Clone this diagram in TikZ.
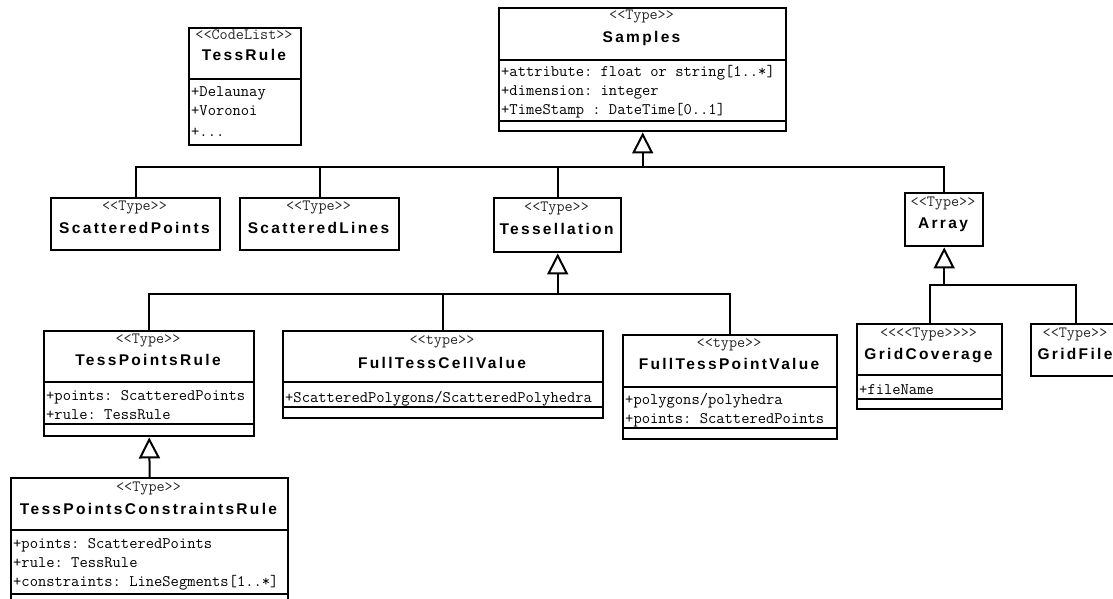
\documentclass[tikz,border=0pt]{standalone}
\usepackage{fontspec}
\usetikzlibrary{arrows.meta}
\newfontfamily\namef{Liberation Sans}[LetterSpace=15]
\frenchspacing
\begin{document}
\begin{tikzpicture}[x=1pt,y=-1pt,
 cls/.style={draw, line width=2.4pt, fill=white, inner sep=0pt, anchor=north west},
 sepline/.style={line width=2pt},
 st/.style={font=\ttfamily\fontsize{15.7}{15.7}\selectfont, anchor=base, inner sep=0pt, text=black!85},
 nm/.style={font=\namef\bfseries\fontsize{15.5}{15.5}\selectfont, anchor=base, inner sep=0pt},
 attr/.style={font=\ttfamily\fontsize{16.1}{16.1}\selectfont, anchor=base west, inner sep=0pt},
 conn/.style={line width=2pt},
 gen/.style={line width=2pt, -{Triangle[open, length=21pt, width=21pt]}}]
\clip (0,0) rectangle (1113,599);
\fill[white] (0,0) rectangle (1113,599);

% TessRule
\node[cls, minimum width=112pt, minimum height=117pt] (TR) at (188,27) {};
\draw[sepline] (188,79) -- (300,79);
\node[st] (TRst) at (244,40) {<<CodeList>>};
\node[nm] (TRnm) at (244,61) {TessRule};
\node[attr] (TRa1) at (191,97) {+Delaunay};
\node[attr] (TRa2) at (191,116) {+Voronoi};
\node[attr] (TRa3) at (191,136) {+...};

% Samples
\node[cls, minimum width=287pt, minimum height=123pt] (SA) at (498,7) {};
\draw[sepline] (498,60) -- (785,60);
\draw[sepline] (498,121) -- (785,121);
\node[st] (SAst) at (641.5,20) {<<Type>>};
\node[nm] (SAnm) at (641.5,43) {Samples};
\node[attr] (SAa1) at (501,77) {+attribute: float or string[1..*]};
\node[attr] (SAa2) at (501,96) {+dimension: integer};
\node[attr] (SAa3) at (501,114) {+TimeStamp : DateTime[0..1]};

% second row
\node[cls, minimum width=169pt, minimum height=52pt] (SP) at (50,197) {};
\node[st] (SPst) at (134.5,210) {<<Type>>};
\node[nm] (SPnm) at (134.5,233) {ScatteredPoints};

\node[cls, minimum width=159pt, minimum height=52pt] (SL) at (239,197) {};
\node[st] (SLst) at (318.5,210) {<<Type>>};
\node[nm] (SLnm) at (318.5,233) {ScatteredLines};

\node[cls, minimum width=127pt, minimum height=54pt] (TE) at (493,197) {};
\node[st] (TEst) at (556.5,211) {<<Type>>};
\node[nm] (TEnm) at (556.5,234) {Tessellation};

\node[cls, minimum width=78pt, minimum height=53pt] (AR) at (904,192) {};
\node[st] (ARst) at (943,206) {<<Type>>};
\node[nm] (ARnm) at (943,228) {Array};

% third row
\node[cls, minimum width=210pt, minimum height=105pt] (TPR) at (43,330) {};
\draw[sepline] (43,382) -- (253,382);
\draw[sepline] (43,424) -- (253,424);
\node[st] (TPRst) at (148,343) {<<Type>>};
\node[nm] (TPRnm) at (148,365) {TessPointsRule};
\node[attr] (TPRa1) at (46,400) {+points: ScatteredPoints};
\node[attr] (TPRa2) at (46,419) {+rule: TessRule};

\node[cls, minimum width=320pt, minimum height=87pt] (FC) at (282,330) {};
\draw[sepline] (282,382) -- (602,382);
\draw[sepline] (282,407) -- (602,407);
\node[st] (FCst) at (442,344) {<<type>>};
\node[nm] (FCnm) at (442,368) {FullTessCellValue};
\node[attr] (FCa1) at (285,402) {+ScatteredPolygons/ScatteredPolyhedra};

\node[cls, minimum width=214pt, minimum height=104pt] (FP) at (622,334) {};
\draw[sepline] (622,387) -- (836,387);
\draw[sepline] (622,428) -- (836,428);
\node[st] (FPst) at (729,347) {<<type>>};
\node[nm] (FPnm) at (729,369) {FullTessPointValue};
\node[attr] (FPa1) at (625,404) {+polygons/polyhedra};
\node[attr] (FPa2) at (625,423) {+points: ScatteredPoints};

\node[cls, minimum width=145pt, minimum height=85pt] (GC) at (856,323) {};
\draw[sepline] (856,375) -- (1001,375);
\draw[sepline] (856,399) -- (1001,399);
\node[st] (GCst) at (928.5,337) {<<<<Type>>>>};
\node[nm] (GCnm) at (928.5,359) {GridCoverage};
\node[attr] (GCa1) at (859,394) {+fileName};

\node[cls, minimum width=90pt, minimum height=52pt] (GF) at (1030,323) {};
\node[st] (GFst) at (1075,337) {<<Type>>};
\node[nm] (GFnm) at (1075,359) {GridFile};

% fourth row
\node[cls, minimum width=277pt, minimum height=140pt] (TPC) at (10,477) {};
\draw[sepline] (10,530) -- (287,530);
\draw[sepline] (10,594) -- (287,594);
\node[st] (TPCst) at (148.5,491) {<<Type>>};
\node[nm] (TPCnm) at (148.5,514) {TessPointsConstraintsRule};
\node[attr] (TPCa1) at (13,548) {+points: ScatteredPoints};
\node[attr] (TPCa2) at (13,567) {+rule: TessRule};
\node[attr] (TPCa3) at (13,586) {+constraints: LineSegments[1..*]};

% connectors
\path (SA.south) ++(0,35) coordinate (j1);
\draw[conn] (SP.north) |- (j1);
\draw[conn] (SL.north) |- (j1);
\draw[conn] (TE.north) |- (j1);
\draw[conn] (AR.north) |- (j1);
\draw[gen] (j1) -- (SA.south);

\path (TE.south) ++(0,41) coordinate (j2);
\draw[conn] (TPR.north) |- (j2);
\draw[conn] (FC.north) |- (j2);
\draw[conn] (FP.north) |- (j2);
\draw[gen] (j2) -- (TE.south);

\path (AR.south) ++(0,38) coordinate (j3);
\draw[conn] (GC.north) |- (j3);
\draw[conn] (GF.north) |- (j3);
\draw[gen] (j3) -- (AR.south);

\draw[gen] (TPC.north) -- (TPR.south);
\end{tikzpicture}
\end{document}
